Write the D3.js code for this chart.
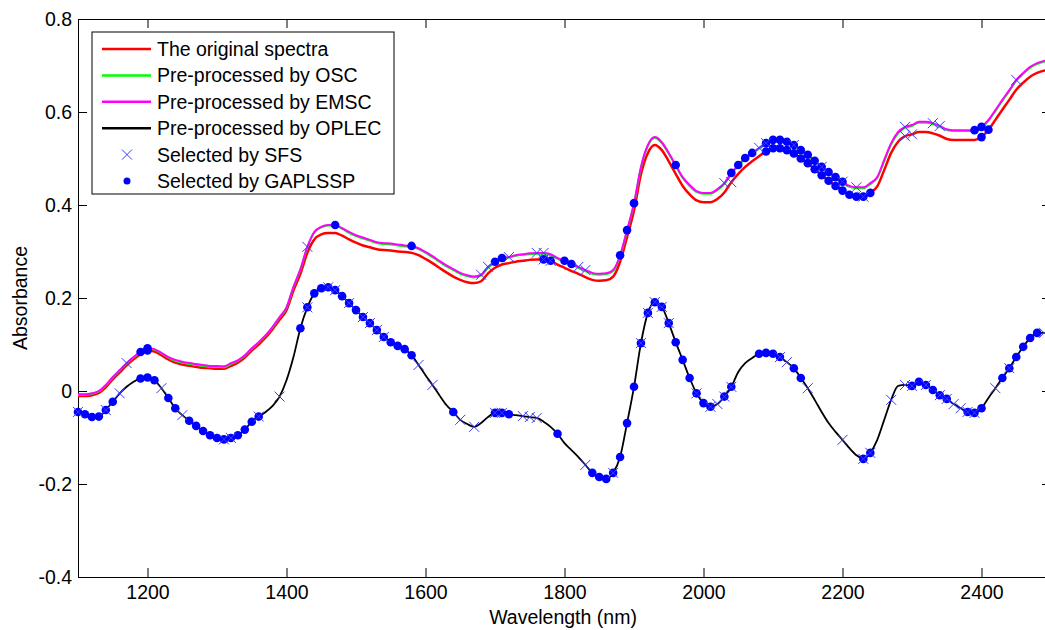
<!DOCTYPE html>
<html>
<head>
<meta charset="utf-8">
<script src="https://cdn.jsdelivr.net/npm/d3@7"></script>
<style>
  body { margin: 0; background: #fff; }
  .chart text { font-family: 'Liberation Sans', Arial, sans-serif; }
</style>
</head>
<body>
<div class="chart"></div>
<script>
// wavelength grid (nm)
var wavelengths = d3.range(1100, 2501, 10)

// spectra, one value per wavelength
var original = [
  -0.011, -0.011, -0.009, -0.004, 0.008, 0.025, 0.040, 0.055, 0.068, 0.079,
  0.087, 0.085, 0.077, 0.068, 0.061, 0.057, 0.054, 0.052, 0.050, 0.049,
  0.048, 0.048, 0.054, 0.061, 0.072, 0.087, 0.100, 0.115, 0.133, 0.153,
  0.174, 0.216, 0.252, 0.297, 0.326, 0.337, 0.340, 0.340, 0.334, 0.326,
  0.319, 0.313, 0.309, 0.305, 0.303, 0.302, 0.300, 0.299, 0.297, 0.292,
  0.284, 0.275, 0.265, 0.255, 0.246, 0.239, 0.234, 0.232, 0.236, 0.253,
  0.265, 0.272, 0.275, 0.278, 0.280, 0.282, 0.283, 0.283, 0.280, 0.272,
  0.265, 0.258, 0.252, 0.245, 0.239, 0.237, 0.238, 0.246, 0.278, 0.331,
  0.388, 0.466, 0.512, 0.529, 0.518, 0.494, 0.467, 0.441, 0.423, 0.410,
  0.406, 0.406, 0.413, 0.427, 0.449, 0.467, 0.482, 0.494, 0.505, 0.515,
  0.522, 0.522, 0.518, 0.511, 0.500, 0.490, 0.477, 0.464, 0.452, 0.441,
  0.431, 0.422, 0.418, 0.418, 0.426, 0.440, 0.475, 0.512, 0.536, 0.548,
  0.552, 0.557, 0.557, 0.554, 0.549, 0.542, 0.540, 0.540, 0.540, 0.540,
  0.546, 0.562, 0.583, 0.605, 0.626, 0.648, 0.663, 0.676, 0.684, 0.689,
  0.691
]
var osc = [
  -0.008, -0.008, -0.006, -0.001, 0.012, 0.029, 0.044, 0.059, 0.072, 0.083,
  0.091, 0.089, 0.081, 0.072, 0.065, 0.061, 0.058, 0.056, 0.054, 0.052,
  0.052, 0.051, 0.058, 0.065, 0.076, 0.091, 0.104, 0.119, 0.137, 0.158,
  0.179, 0.223, 0.261, 0.309, 0.341, 0.352, 0.356, 0.356, 0.349, 0.340,
  0.333, 0.328, 0.323, 0.318, 0.316, 0.315, 0.313, 0.311, 0.310, 0.305,
  0.297, 0.288, 0.278, 0.268, 0.260, 0.252, 0.247, 0.244, 0.248, 0.265,
  0.276, 0.284, 0.287, 0.291, 0.293, 0.294, 0.295, 0.295, 0.292, 0.284,
  0.278, 0.271, 0.265, 0.258, 0.252, 0.250, 0.251, 0.258, 0.290, 0.344,
  0.402, 0.480, 0.527, 0.544, 0.533, 0.510, 0.484, 0.458, 0.441, 0.428,
  0.424, 0.424, 0.432, 0.445, 0.467, 0.484, 0.499, 0.510, 0.521, 0.531,
  0.538, 0.538, 0.534, 0.527, 0.516, 0.506, 0.493, 0.480, 0.469, 0.458,
  0.448, 0.439, 0.436, 0.436, 0.445, 0.458, 0.494, 0.530, 0.554, 0.566,
  0.570, 0.577, 0.577, 0.574, 0.568, 0.561, 0.559, 0.559, 0.559, 0.559,
  0.566, 0.581, 0.602, 0.624, 0.645, 0.667, 0.682, 0.695, 0.703, 0.708,
  0.710
]
var emsc = [
  -0.007, -0.007, -0.005, 0.000, 0.013, 0.030, 0.045, 0.060, 0.073, 0.084,
  0.092, 0.090, 0.082, 0.073, 0.067, 0.063, 0.060, 0.058, 0.056, 0.054,
  0.054, 0.053, 0.060, 0.066, 0.077, 0.092, 0.105, 0.120, 0.138, 0.159,
  0.180, 0.224, 0.262, 0.310, 0.342, 0.353, 0.357, 0.357, 0.350, 0.342,
  0.335, 0.330, 0.325, 0.320, 0.318, 0.317, 0.315, 0.313, 0.312, 0.307,
  0.299, 0.290, 0.280, 0.270, 0.262, 0.254, 0.249, 0.246, 0.250, 0.267,
  0.278, 0.286, 0.288, 0.292, 0.294, 0.296, 0.297, 0.297, 0.294, 0.286,
  0.280, 0.273, 0.267, 0.260, 0.254, 0.252, 0.253, 0.260, 0.292, 0.346,
  0.404, 0.482, 0.529, 0.546, 0.535, 0.512, 0.486, 0.460, 0.443, 0.430,
  0.426, 0.426, 0.434, 0.447, 0.469, 0.486, 0.501, 0.512, 0.523, 0.533,
  0.540, 0.540, 0.536, 0.529, 0.518, 0.508, 0.495, 0.482, 0.471, 0.460,
  0.450, 0.441, 0.438, 0.438, 0.447, 0.460, 0.497, 0.533, 0.557, 0.568,
  0.572, 0.579, 0.579, 0.576, 0.570, 0.563, 0.561, 0.561, 0.561, 0.561,
  0.568, 0.583, 0.604, 0.626, 0.647, 0.669, 0.684, 0.697, 0.705, 0.710,
  0.712
]
var oplec = [
  -0.045, -0.050, -0.056, -0.055, -0.041, -0.023, -0.005, 0.009, 0.020, 0.027,
  0.029, 0.023, 0.006, -0.015, -0.037, -0.052, -0.064, -0.075, -0.086, -0.095,
  -0.101, -0.104, -0.101, -0.095, -0.083, -0.066, -0.055, -0.045, -0.032, -0.012,
  0.023, 0.073, 0.135, 0.180, 0.210, 0.221, 0.223, 0.217, 0.204, 0.189,
  0.174, 0.159, 0.146, 0.131, 0.116, 0.105, 0.097, 0.090, 0.077, 0.056,
  0.034, 0.013, -0.009, -0.030, -0.045, -0.062, -0.071, -0.077, -0.069, -0.056,
  -0.047, -0.047, -0.050, -0.052, -0.054, -0.056, -0.058, -0.066, -0.077, -0.092,
  -0.112, -0.127, -0.142, -0.159, -0.176, -0.185, -0.189, -0.176, -0.142, -0.069,
  0.009, 0.103, 0.168, 0.191, 0.181, 0.146, 0.105, 0.067, 0.028, -0.005,
  -0.026, -0.034, -0.028, -0.012, 0.009, 0.041, 0.060, 0.071, 0.080, 0.082,
  0.080, 0.073, 0.062, 0.049, 0.028, 0.006, -0.019, -0.045, -0.069, -0.088,
  -0.105, -0.123, -0.138, -0.146, -0.133, -0.105, -0.062, -0.019, 0.011, 0.013,
  0.011, 0.020, 0.013, 0.002, -0.009, -0.017, -0.028, -0.037, -0.045, -0.047,
  -0.037, -0.015, 0.006, 0.028, 0.049, 0.073, 0.095, 0.114, 0.125, 0.125,
  0.120
]

// selected wavelengths (nm)
var gaOriginal = [1200, 1770, 1780, 2090, 2100, 2110, 2120, 2130, 2140, 2150, 2160,
  2170, 2180, 2190, 2200, 2210, 2220, 2230, 2240, 2400, 2410]
var gaEmsc = [1190, 1200, 1470, 1580, 1700, 1710, 1800, 1810, 1880, 1890, 1900, 1960,
  2040, 2050, 2060, 2070, 2090, 2100, 2110, 2120, 2130, 2140, 2150, 2160, 2170,
  2180, 2190, 2200, 2390, 2400]
var sfsOriginal = [1770, 1780, 2040, 2230, 2290, 2300]
var sfsEmsc = [1170, 1430, 1680, 1690, 1720, 1760, 1770, 1820, 1830, 2030, 2080, 2090,
  2130, 2170, 2200, 2220, 2290, 2330, 2340, 2450]
var gaOplec = [1100, 1110, 1120, 1130, 1140, 1150, 1190, 1200, 1210, 1230, 1240,
  1260, 1270, 1280, 1290, 1300, 1310, 1320, 1330, 1340, 1350, 1360, 1420, 1430,
  1440, 1450, 1460, 1470, 1480, 1490, 1500, 1510, 1520, 1530, 1540, 1550, 1560,
  1570, 1580, 1640, 1700, 1710, 1720, 1790, 1840, 1850, 1860, 1870, 1880, 1890,
  1900, 1910, 1920, 1930, 1940, 1950, 1960, 1970, 1980, 1990, 2000, 2010, 2030,
  2040, 2080, 2090, 2100, 2110, 2130, 2140, 2230, 2240, 2300, 2310, 2320, 2330,
  2340, 2350, 2380, 2390, 2400, 2430, 2440, 2450, 2460, 2470, 2480]
var sfsOplec = [1100, 1140, 1160, 1220, 1250, 1310, 1320, 1360, 1390, 1430, 1460,
  1470, 1490, 1510, 1520, 1530, 1540, 1590, 1610, 1650, 1670, 1700, 1710, 1740,
  1750, 1760, 1830, 1870, 1910, 1920, 1930, 1940, 1950, 1990, 2010, 2020, 2030,
  2040, 2110, 2120, 2150, 2200, 2230, 2240, 2270, 2290, 2300, 2320, 2340, 2350,
  2360, 2370, 2380, 2390, 2420, 2440, 2490]

var xTicks = [1200, 1400, 1600, 1800, 2000, 2200, 2400]
var yTicks = [-0.4, -0.2, 0, 0.2, 0.4, 0.6, 0.8]
var legendLabels = ['The original spectra', 'Pre-processed by OSC', 'Pre-processed by EMSC',
  'Pre-processed by OPLEC', 'Selected by SFS', 'Selected by GAPLSSP']

var margin = {top: 19, right: -6, bottom: 53, left: 78}
var width = 1045 - margin.left - margin.right
var height = 630 - margin.top - margin.bottom
var fontSize = '19.5px'

var x = d3.scaleLinear().domain([1100, 2500]).range([0, width])
var y = d3.scaleLinear().domain([-0.4, 0.8]).range([height, 0])

var line = d3
  .line()
  .curve(d3.curveMonotoneX)
  .x(function(d, i) {
    return x(wavelengths[i])
  })
  .y(function(d) {
    return y(d)
  })

var svg = d3
  .select('.chart')
  .append('svg')
  .attr('width', 1045)
  .attr('height', 630)
  .append('g')
  .attr('transform', 'translate(' + margin.left + ',' + margin.top + ')')

function styleAxis(g) {
  g.selectAll('path, line').attr('stroke', '#000').attr('stroke-width', 1)
  g.selectAll('text').attr('fill', '#000').style('font-size', fontSize)
    .style('font-family', "'Liberation Sans', Arial, sans-serif")
}

var fmt = function(d) {
  return String(+d.toFixed(1))
}

svg.append('g')
  .attr('transform', 'translate(0,' + height + ')')
  .call(d3.axisBottom(x).tickValues(xTicks).tickSizeInner(-9).tickSizeOuter(0).tickPadding(8)
    .tickFormat(d3.format('d')))
  .call(styleAxis)
svg.append('g')
  .call(d3.axisTop(x).tickValues(xTicks).tickSizeInner(-9).tickSizeOuter(0).tickFormat(''))
  .call(styleAxis)
svg.append('g')
  .call(d3.axisLeft(y).tickValues(yTicks).tickSizeInner(-9).tickSizeOuter(0).tickPadding(6).tickFormat(fmt))
  .call(styleAxis)
svg.append('g')
  .attr('transform', 'translate(' + width + ',0)')
  .call(d3.axisRight(y).tickValues(yTicks).tickSizeInner(-9).tickSizeOuter(0).tickFormat(''))
  .call(styleAxis)

// axis titles
svg.append('text')
  .attr('x', 563 - margin.left)
  .attr('y', height + 47)
  .style('text-anchor', 'middle')
  .style('font-size', fontSize)
  .text('Wavelength (nm)')
svg.append('text')
  .attr('transform', 'rotate(-90)')
  .attr('x', -(298 - margin.top))
  .attr('y', 27 - margin.left)
  .style('text-anchor', 'middle')
  .style('font-size', fontSize)
  .text('Absorbance')

// spectra
var series = [
  {values: original, color: '#ff0000', w: 2.5},
  {values: osc, color: '#00ff00', w: 2},
  {values: emsc, color: '#ff00ff', w: 2},
  {values: oplec, color: '#000000', w: 1.8}
]
series.forEach(function(s) {
  svg.append('path')
    .datum(s.values)
    .attr('fill', 'none')
    .attr('stroke', s.color)
    .attr('stroke-width', s.w)
    .attr('d', line)
})

// markers on the curves at the selected wavelengths
function valueAt(curve, wl) {
  return curve[wavelengths.indexOf(wl)]
}
var crossPath = 'M-5,-5L5,5M5,-5L-5,5'

function dots(list, curve) {
  svg.append('g').selectAll('circle')
    .data(list)
    .enter()
    .append('circle')
    .attr('cx', function(d) { return x(d) })
    .attr('cy', function(d) { return y(valueAt(curve, d)) })
    .attr('r', 4.3)
    .attr('fill', '#0000ff')
}
function crosses(list, curve) {
  svg.append('g').selectAll('path')
    .data(list)
    .enter()
    .append('path')
    .attr('d', crossPath)
    .attr('transform', function(d) {
      return 'translate(' + x(d) + ',' + y(valueAt(curve, d)) + ')'
    })
    .attr('fill', 'none')
    .attr('stroke', '#3a3aff')
    .attr('stroke-width', 1)
}
dots(gaOriginal, original)
dots(gaEmsc, emsc)
dots(gaOplec, oplec)
crosses(sfsOriginal, original)
crosses(sfsEmsc, emsc)
crosses(sfsOplec, oplec)

// legend
var legend = svg.append('g')
  .attr('transform', 'translate(' + (92 - margin.left) + ',' + (32 - margin.top) + ')')
legend.append('rect')
  .attr('width', 302)
  .attr('height', 162)
  .attr('fill', '#fff')
  .attr('stroke', '#000')
  .attr('stroke-width', 1)
legendLabels.forEach(function(label, i) {
  var cy = 17 + i * 26.4
  if (i < 4) {
    legend.append('line')
      .attr('x1', 10).attr('x2', 59)
      .attr('y1', cy).attr('y2', cy)
      .attr('stroke', series[i].color)
      .attr('stroke-width', 2.5)
  } else if (i === 4) {
    legend.append('path')
      .attr('d', crossPath)
      .attr('transform', 'translate(35,' + cy + ')')
      .attr('fill', 'none')
      .attr('stroke', '#3a3aff')
  } else {
    legend.append('circle')
      .attr('cx', 35).attr('cy', cy).attr('r', 3.5)
      .attr('fill', '#0000ff')
  }
  legend.append('text')
    .attr('x', 65)
    .attr('y', cy + 7)
    .style('font-size', fontSize)
    .text(label)
})
</script>
</body>
</html>
